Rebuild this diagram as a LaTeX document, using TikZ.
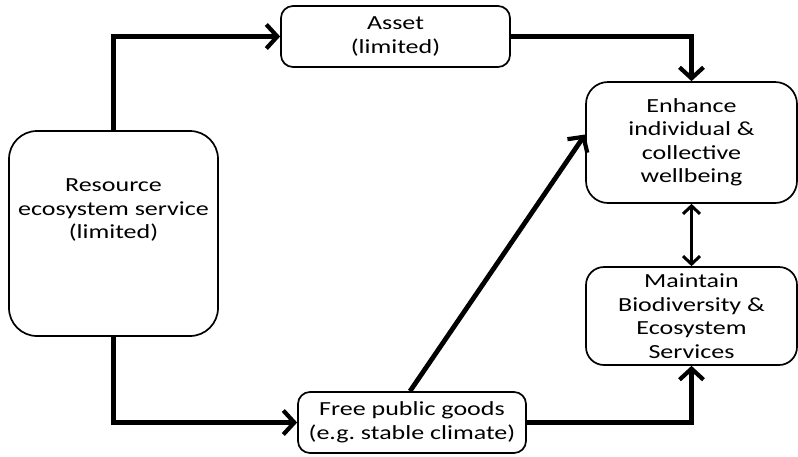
\documentclass[tikz,border=0pt]{standalone}
\usepackage{fontspec}
\setmainfont[FakeStretch=1.3]{Carlito}
\usetikzlibrary{arrows.meta}
\tikzset{
  box/.style={draw=black, line width=1.7pt, rounded corners=#1, align=center, inner sep=0pt},
  box/.default=12pt,
  txt/.style={align=center, inner sep=0pt},
  bigarrow/.style={line width=4.8pt, -{Straight Barb[length=11pt,width=24pt,line width=4.2pt]}},
  duoarrow/.style={line width=3pt, {Straight Barb[length=8pt,width=17pt,line width=3pt]}-{Straight Barb[length=8pt,width=17pt,line width=3pt]}},
}
\begin{document}
\begin{tikzpicture}[x=1pt,y=-1pt, font=\fontsize{20}{23.5}\selectfont]
\useasboundingbox (0,0) rectangle (798,456);
\node[box=28pt, minimum width=209pt, minimum height=205pt] (res) at (113.5,233.5) {};
\node[txt] (restxt) at (113.5,210) {Resource\\ecosystem service\\(limited)};
\node[box=12pt, minimum width=229pt, minimum height=61pt] (asset) at (395.5,36.5) {Asset\\(limited)};
\node[box=22pt, minimum width=211pt, minimum height=121pt] (enh) at (691.5,142.5) {Enhance\\individual \&\\collective\\wellbeing};
\node[box=18pt, minimum width=211pt, minimum height=98pt] (main) at (691.5,316) {Maintain\\Biodiversity \&\\Ecosystem\\Services};
\node[box=12pt, minimum width=228pt, minimum height=61pt] (free) at (412,422.5) {Free public goods\\(e.g.\ stable climate)};
\draw[bigarrow] (res.north) |- (asset.west);
\draw[bigarrow] (asset.east) -| (enh.north);
\draw[bigarrow] (res.south) |- (free.west);
\draw[bigarrow] (free.east) -| (main.south);
\draw[bigarrow] ([xshift=-2pt]free.north) -- ([yshift=8pt]enh.west);
\draw[duoarrow] (enh.south) -- (main.north);
\end{tikzpicture}
\end{document}
